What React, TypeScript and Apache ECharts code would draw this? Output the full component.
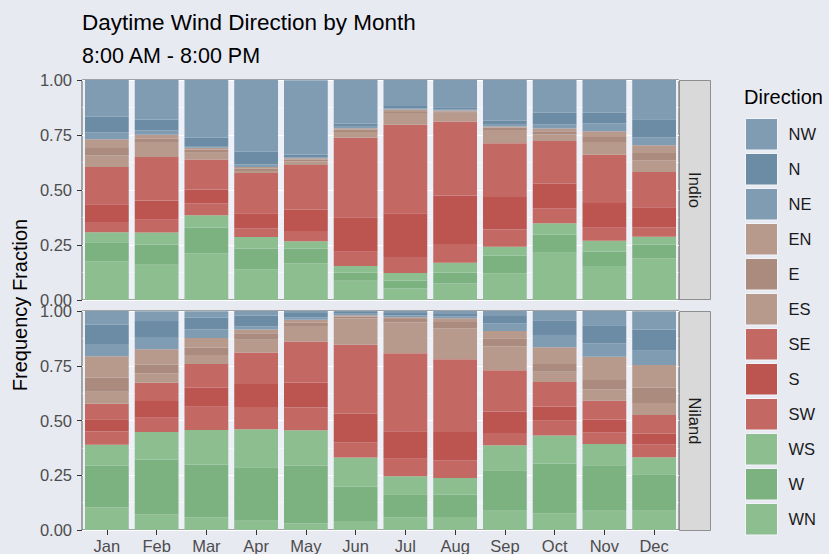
import React, { useEffect, useRef } from "react";
import * as echarts from "echarts";

const months = ["Jan", "Feb", "Mar", "Apr", "May", "Jun", "Jul", "Aug", "Sep", "Oct", "Nov", "Dec"];
const directions = ["NW", "N", "NE", "EN", "E", "ES", "SE", "S", "SW", "WS", "W", "WN"];
const yTicks = [0, 0.25, 0.5, 0.75, 1];

// Indio
const indioNW = [0.167, 0.18, 0.262, 0.327, 0.338, 0.198, 0.119, 0.125, 0.187, 0.149, 0.149, 0.178];
const indioN = [0.072, 0.049, 0.038, 0.058, 0.012, 0.015, 0.011, 0.009, 0.018, 0.052, 0.049, 0.082];
const indioNE = [0.03, 0.02, 0.008, 0.011, 0.005, 0.006, 0.005, 0.006, 0.008, 0.02, 0.035, 0.037];
const indioEN = [0.04, 0.018, 0.008, 0.008, 0.006, 0.006, 0.011, 0.005, 0.005, 0.012, 0.026, 0.035];
const indioE = [0.033, 0.015, 0.015, 0.011, 0.009, 0.011, 0.005, 0.005, 0.011, 0.015, 0.023, 0.033];
const indioES = [0.053, 0.068, 0.03, 0.009, 0.015, 0.026, 0.053, 0.04, 0.061, 0.029, 0.058, 0.053];
const indioSE = [0.17, 0.198, 0.137, 0.183, 0.204, 0.362, 0.403, 0.336, 0.244, 0.195, 0.219, 0.16];
const indioS = [0.081, 0.087, 0.062, 0.068, 0.096, 0.157, 0.198, 0.221, 0.148, 0.111, 0.113, 0.091];
const indioSW = [0.046, 0.058, 0.055, 0.04, 0.047, 0.064, 0.073, 0.085, 0.078, 0.068, 0.059, 0.043];
const indioWS = [0.046, 0.056, 0.055, 0.052, 0.033, 0.03, 0.035, 0.044, 0.041, 0.052, 0.049, 0.037];
const indioW = [0.087, 0.091, 0.117, 0.094, 0.068, 0.037, 0.035, 0.05, 0.081, 0.082, 0.065, 0.062];
const indioWN = [0.175, 0.16, 0.213, 0.14, 0.166, 0.088, 0.053, 0.075, 0.12, 0.215, 0.155, 0.189];

// Niland
const nilandNW = [0.064, 0.045, 0.03, 0.023, 0.011, 0.006, 0.011, 0.015, 0.023, 0.042, 0.065, 0.083];
const nilandN = [0.088, 0.073, 0.053, 0.048, 0.02, 0.008, 0.012, 0.011, 0.033, 0.068, 0.082, 0.098];
const nilandNE = [0.056, 0.056, 0.039, 0.014, 0.011, 0.006, 0.008, 0.008, 0.035, 0.056, 0.062, 0.065];
const nilandEN = [0.098, 0.071, 0.045, 0.018, 0.014, 0.006, 0.008, 0.017, 0.033, 0.076, 0.106, 0.103];
const nilandE = [0.064, 0.038, 0.033, 0.029, 0.015, 0.009, 0.015, 0.029, 0.038, 0.035, 0.042, 0.07];
const nilandES = [0.055, 0.044, 0.041, 0.058, 0.07, 0.12, 0.141, 0.141, 0.108, 0.047, 0.053, 0.055];
const nilandSE = [0.07, 0.083, 0.109, 0.144, 0.188, 0.315, 0.356, 0.332, 0.189, 0.112, 0.086, 0.086];
const nilandS = [0.056, 0.076, 0.086, 0.105, 0.114, 0.13, 0.126, 0.13, 0.098, 0.065, 0.058, 0.048];
const nilandSW = [0.061, 0.065, 0.106, 0.102, 0.103, 0.07, 0.079, 0.08, 0.056, 0.068, 0.053, 0.059];
const nilandWS = [0.094, 0.127, 0.158, 0.174, 0.162, 0.132, 0.083, 0.076, 0.114, 0.129, 0.097, 0.077];
const nilandW = [0.192, 0.25, 0.241, 0.244, 0.264, 0.158, 0.105, 0.103, 0.185, 0.226, 0.208, 0.167];
const nilandWN = [0.103, 0.071, 0.058, 0.042, 0.03, 0.041, 0.058, 0.059, 0.088, 0.076, 0.088, 0.088];

const indioData: Record<string, number[]> = {
  NW: indioNW, N: indioN, NE: indioNE, EN: indioEN, E: indioE, ES: indioES,
  SE: indioSE, S: indioS, SW: indioSW, WS: indioWS, W: indioW, WN: indioWN,
};
const nilandData: Record<string, number[]> = {
  NW: nilandNW, N: nilandN, NE: nilandNE, EN: nilandEN, E: nilandE, ES: nilandES,
  SE: nilandSE, S: nilandS, SW: nilandSW, WS: nilandWS, W: nilandW, WN: nilandWN,
};

const colors: Record<string, string> = {
  NW: "#7f9cb3", N: "#6c8ca6", NE: "#7f9cb3",
  EN: "#b89a8d", E: "#ab8b7e", ES: "#b89a8d",
  SE: "#c46864", S: "#bc5550", SW: "#c46864",
  WS: "#8cbe90", W: "#7cb280", WN: "#8cbe90",
};

const FONT = "'Liberation Sans', Arial, Helvetica, sans-serif";
const BG = "#e8eaf2";
const PANEL = "#eef0f7";

export default function App() {
  const ref = useRef<HTMLDivElement>(null);
  useEffect(() => {
    document.body.style.margin = "0";
    if (!ref.current) return;
    const chart = echarts.init(ref.current, undefined, { renderer: "svg" });

    const panels = [
      { top: 80, data: indioData, name: "Indio" },
      { top: 311, data: nilandData, name: "Niland" },
    ];
    const left = 82;
    const width = 597;
    const height = 220;

    const grids = panels.map((p) => ({
      left, top: p.top, width, height,
      show: true, backgroundColor: PANEL, borderColor: "#5a5a5a", borderWidth: 1,
    }));

    const xAxes = panels.map((p, i) => ({
      type: "category",
      gridIndex: i,
      data: months,
      axisLine: { show: false },
      axisTick: { show: i === 1, alignWithLabel: true, length: 5, lineStyle: { color: "#333", width: 1 } },
      axisLabel: { show: i === 1, color: "#4d4d4d", fontSize: 16.5, fontFamily: FONT, margin: 7 },
      splitLine: { show: false },
    }));

    const yAxes = panels.map((p, i) => ({
      type: "value",
      gridIndex: i,
      min: 0, max: 1, interval: 0.25,
      axisLine: { show: false },
      axisTick: { show: true, length: 5, lineStyle: { color: "#333", width: 1 } },
      axisLabel: {
        color: "#4d4d4d", fontSize: 16.5, fontFamily: FONT, margin: 10,
        formatter: (v: number) => (yTicks.includes(v) ? v.toFixed(2) : ""),
      },
      splitLine: { show: true, lineStyle: { color: "#ffffff", width: 1 } },
      minorTick: { show: false, splitNumber: 2 },
      minorSplitLine: { show: true, lineStyle: { color: "#ffffff", width: 0.5 } },
    }));

    const series: any[] = [];
    panels.forEach((p, i) => {
      [...directions].reverse().forEach((d) => {
        series.push({
          name: d,
          type: "bar",
          stack: p.name,
          xAxisIndex: i,
          yAxisIndex: i,
          data: p.data[d],
          barCategoryGap: "12%",
          itemStyle: { color: colors[d] },
          emphasis: { disabled: true },
        });
      });
    });

    const graphic: any[] = [
      { type: "text", left: 82, top: 11, style: { text: "Daytime Wind Direction by Month", font: `22.5px ${FONT}`, fill: "#000" } },
      { type: "text", left: 82, top: 45, style: { text: "8:00 AM - 8:00 PM", font: `21.5px ${FONT}`, fill: "#000" } },
      { type: "text", x: 20, y: 305, rotation: Math.PI / 2, style: { text: "Frequency Fraction", font: `20px ${FONT}`, fill: "#000", align: "center", verticalAlign: "middle" } },
      { type: "text", left: 744, top: 87, style: { text: "Direction", font: `20px ${FONT}`, fill: "#000" } },
    ];
    panels.forEach((p) => {
      graphic.push({
        type: "rect",
        shape: { x: 679.5, y: p.top + 0.5, width: 31, height: height - 1 },
        style: { fill: "#d9d9d9", stroke: "#8f8f8f", lineWidth: 1 },
      });
      graphic.push({
        type: "text",
        x: 695,
        y: p.top + height / 2,
        rotation: -Math.PI / 2,
        style: { text: p.name, font: `16.5px ${FONT}`, fill: "#1a1a1a", align: "center", verticalAlign: "middle" },
      });
    });

    chart.setOption({
      animation: false,
      backgroundColor: BG,
      grid: grids,
      xAxis: xAxes,
      yAxis: yAxes,
      series,
      legend: {
        data: directions,
        orient: "vertical",
        left: 745,
        top: 118,
        padding: 0,
        icon: "rect",
        itemWidth: 32,
        itemHeight: 31.5,
        itemGap: 2.5,
        selectedMode: false,
        itemStyle: { borderColor: "#f3f4f9", borderWidth: 1 },
        textStyle: { fontSize: 16.5, color: "#1a1a1a", fontFamily: FONT, padding: [0, 0, 0, 6] },
      },
      graphic,
    });
    return () => chart.dispose();
  }, []);
  return <div ref={ref} style={{ width: 829, height: 554 }} />;
}
